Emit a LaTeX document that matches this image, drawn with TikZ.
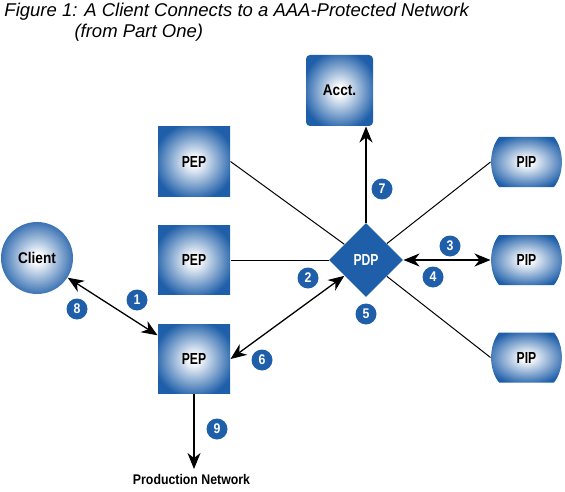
\documentclass[tikz,border=0pt]{standalone}
\usepackage{fontspec}
\setmainfont{Liberation Sans}
\newfontfamily\boxfont{Liberation Sans}[FakeStretch=0.76]
\newfontfamily\widefont{Liberation Sans}[FakeStretch=0.88]
\usetikzlibrary{shapes.geometric, arrows.meta, positioning}
\definecolor{aaablue}{HTML}{1F5FA9}
\pgfdeclareradialshading{glow}{\pgfpointorigin}{color(0bp)=(white); color(3bp)=(white); color(28bp)=(aaablue); color(72bp)=(aaablue)}
\tikzset{
  pepbox/.style={rectangle, minimum width=72pt, minimum height=69pt, inner sep=0pt, shading=glow, font=\boxfont\bfseries\fontsize{16}{16}\selectfont},
  acctbox/.style={rectangle, rounded corners=4pt, minimum width=67pt, minimum height=71pt, inner sep=0pt, shading=glow, font=\widefont\bfseries\fontsize{15.5}{15.5}\selectfont},
  clientball/.style={circle, minimum size=72pt, inner sep=0pt, shading=glow, font=\widefont\bfseries\fontsize{15.5}{15.5}\selectfont},
  pdpdiamond/.style={diamond, aspect=1, minimum width=74pt, minimum height=74pt, inner sep=0pt, fill=aaablue, text=white, font=\boxfont\bfseries\fontsize{16}{16}\selectfont},
  pipbox/.style={rectangle, minimum width=71pt, minimum height=50pt, inner sep=0pt, font=\boxfont\bfseries\fontsize{16}{16}\selectfont},
  badge/.style={circle, fill=aaablue, text=white, minimum size=21pt, inner sep=0pt, font=\widefont\bfseries\fontsize{14}{14}\selectfont},
  flow/.style={line width=1.3pt}
}

\begin{document}
\begin{tikzpicture}[x=1pt, y=-1pt, line width=1pt, >={Stealth[length=16pt,width=13pt,inset=5pt]}]
  \useasboundingbox (0,0) rectangle (565,492);
  % title
  \node[anchor=base west, inner sep=0pt, font=\itshape\fontsize{18.5}{20}\selectfont] (title) at (4,17) {Figure 1: A Client Connects to a AAA-Protected Network};
  \node[anchor=base west, inner sep=0pt, font=\itshape\fontsize{18.5}{20}\selectfont] (subtitle) at (74,38) {(from Part One)};
  % boxes
  \node[pepbox] (pepa) at (194,161.5) {PEP};
  \node[pepbox] (pepb) at (194,260) {PEP};
  \node[pepbox] (pepc) at (194,359) {PEP};
  \node[clientball] (client) at (37,258) {Client};
  \node[acctbox] (acct) at (339.5,90.5) {Acct.};
  \node[pdpdiamond] (pdp) at (366,260) {PDP};
  \foreach \name/\y in {pipa/162, pipb/260, pipc/357.5} {
    \shade[shading=glow, shift={(526.5,\y)}] (-27.5,-25) -- (27.5,-25) .. controls (38,-12) and (38,12) .. (27.5,25) -- (-27.5,25) .. controls (-38,12) and (-38,-12) .. (-27.5,-25) -- cycle;
    \node[pipbox] (\name) at (526.5,\y) {PIP};
  }
  \node[inner sep=0pt, anchor=north, font=\widefont\bfseries\fontsize{14}{14}\selectfont] (prod) at (191.5,474) {Production Network};
  % connectors
  \draw (pepa.east) -- (pdp);
  \draw (pepb.east) -- (pdp.west);
  \draw (pdp) -- (pipa.west);
  \draw (pdp) -- (pipc.west);
  \draw[flow, <->] (pdp.east) -- (pipb.west);
  \draw[flow, ->] (pdp.north) -- (pdp.north |- acct.south);
  \draw[flow, <->] (pepc.east) -- (pdp);
  \draw[flow, <->] (client) -- (pepc.147);
  \draw[flow, ->, shorten >=5pt] (pepc.south) -- (pepc.south |- prod.north);
  % step numbers
  \foreach \n/\x/\y in {1/137/300, 2/308/278, 3/450/246, 4/433/277, 5/366/314, 6/262/360, 7/382/189, 8/77/309, 9/217/429}
    \node[badge] (b\n) at (\x,\y) {\n};
\end{tikzpicture}
\end{document}
